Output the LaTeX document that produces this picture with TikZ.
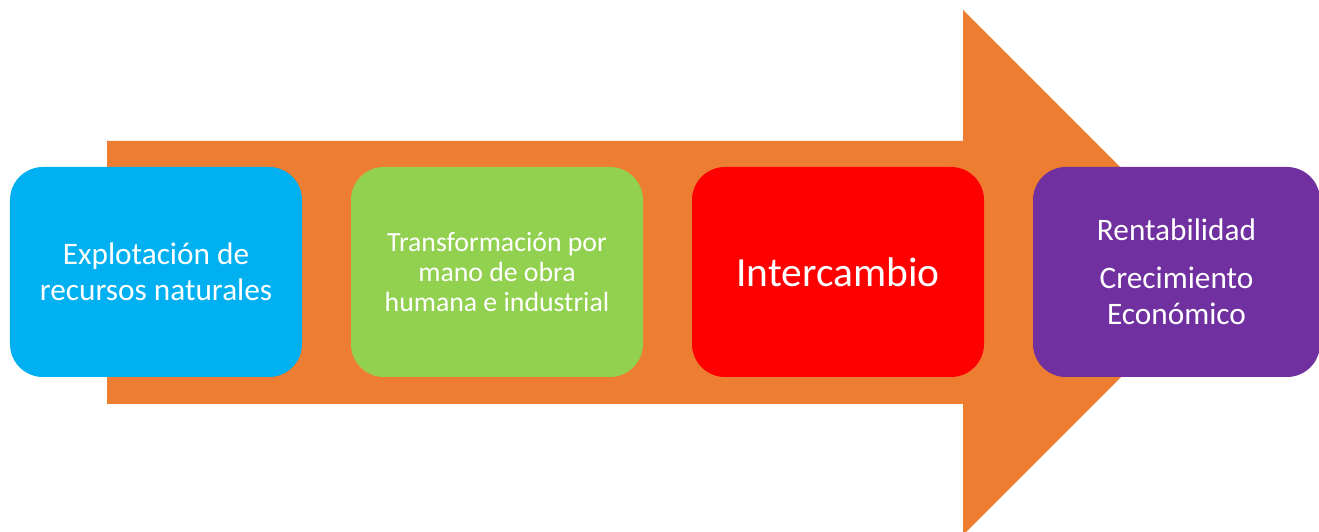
\documentclass[tikz,border=0pt]{standalone}
\usepackage{fontspec}
\setmainfont{Carlito}
\usetikzlibrary{positioning}
\definecolor{flecha}{HTML}{ED7D31}
\definecolor{celeste}{HTML}{00B0F0}
\definecolor{verde}{HTML}{92D050}
\definecolor{rojo}{HTML}{FF0000}
\definecolor{morado}{HTML}{7030A0}
\tikzset{
  etapa/.style={rectangle, rounded corners=0.66cm, minimum width=5.84cm,
    minimum height=4.2cm, inner sep=0pt, outer sep=0pt, text=white, align=center},
}
\begin{document}
\begin{tikzpicture}
      \useasboundingbox (0,0) rectangle (26.38,10.62);
      \begin{scope}
        % flecha de fondo
        \fill[flecha] (2.14,7.80) -- (19.26,7.80) -- (19.26,10.42) -- (24.51,5.17)
          -- (19.26,-0.08) -- (19.26,2.54) -- (2.14,2.54) -- cycle;
      \end{scope}
      \begin{scope}[node distance=0.98cm]
        \node[etapa, fill=celeste, font=\fontsize{17.8}{20.4}\selectfont] (explot) at (3.12,5.18)
          {Explotación de\\recursos naturales};
        \node[etapa, fill=verde, font=\fontsize{15.8}{17}\selectfont, right=of explot] (transf)
          {Transformación por\\mano de obra\\humana e industrial};
        \node[etapa, fill=rojo, font=\fontsize{23.6}{27}\selectfont, right=of transf] (interc)
          {Intercambio};
        \node[etapa, fill=morado, minimum width=5.74cm, font=\fontsize{17.8}{20.4}\selectfont, right=of interc] (rentab)
          {Rentabilidad\\[6.8pt]Crecimiento\\Económico};
      \end{scope}
    \end{tikzpicture}
\end{document}
